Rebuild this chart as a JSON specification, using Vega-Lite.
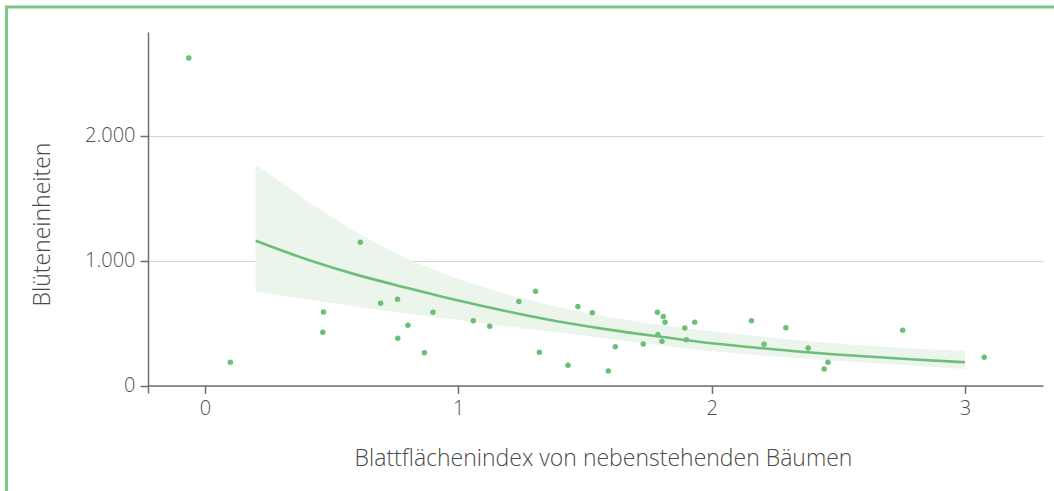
{
  "$schema": "https://vega.github.io/schema/vega-lite/v6.json",
  "width": 895,
  "height": 361,
  "autosize": {"type": "none"},
  "padding": {"left": 148, "top": 32, "right": 11, "bottom": 98},
  "background": "white",
  "config": {
    "view": {"stroke": null},
    "font": "Open Sans",
    "axis": {
      "labelFont": "Open Sans",
      "titleFont": "Open Sans",
      "labelColor": "#505050",
      "titleColor": "#4a4a4a",
      "labelFontSize": 20,
      "titleFontSize": 23,
      "labelFontWeight": 300,
      "titleFontWeight": 300,
      "domainColor": "#707070",
      "domainWidth": 1.5,
      "tickColor": "#707070",
      "tickWidth": 1.5,
      "tickSize": 8,
      "gridColor": "#d4d4d4",
      "gridWidth": 1
    }
  },
  "datasets": {
    "points": [
      {"lai": -0.064, "bloom": 2620},
      {"lai": 0.100, "bloom": 186},
      {"lai": 0.468, "bloom": 588},
      {"lai": 0.465, "bloom": 426},
      {"lai": 0.613, "bloom": 1146},
      {"lai": 0.693, "bloom": 658},
      {"lai": 0.760, "bloom": 690},
      {"lai": 0.801, "bloom": 482},
      {"lai": 0.761, "bloom": 378},
      {"lai": 0.866, "bloom": 262},
      {"lai": 0.900, "bloom": 586},
      {"lai": 1.059, "bloom": 518},
      {"lai": 1.124, "bloom": 474},
      {"lai": 1.239, "bloom": 672},
      {"lai": 1.305, "bloom": 754},
      {"lai": 1.320, "bloom": 266},
      {"lai": 1.472, "bloom": 632},
      {"lai": 1.529, "bloom": 583},
      {"lai": 1.433, "bloom": 162},
      {"lai": 1.592, "bloom": 116},
      {"lai": 1.620, "bloom": 310},
      {"lai": 1.730, "bloom": 332},
      {"lai": 1.786, "bloom": 586},
      {"lai": 1.809, "bloom": 552},
      {"lai": 1.816, "bloom": 506},
      {"lai": 1.788, "bloom": 408},
      {"lai": 1.804, "bloom": 354},
      {"lai": 1.894, "bloom": 460},
      {"lai": 1.933, "bloom": 506},
      {"lai": 1.900, "bloom": 366},
      {"lai": 2.157, "bloom": 518},
      {"lai": 2.293, "bloom": 462},
      {"lai": 2.207, "bloom": 330},
      {"lai": 2.381, "bloom": 300},
      {"lai": 2.459, "bloom": 186},
      {"lai": 2.444, "bloom": 132},
      {"lai": 2.754, "bloom": 442},
      {"lai": 3.076, "bloom": 226}
    ],
    "fit": [
      {"lai": 0.2, "fit": 1158, "lo": 752, "hi": 1770},
      {"lai": 0.4, "fit": 1010, "lo": 690, "hi": 1480},
      {"lai": 0.6, "fit": 885, "lo": 630, "hi": 1220},
      {"lai": 0.8, "fit": 780, "lo": 575, "hi": 1010},
      {"lai": 1.0, "fit": 680, "lo": 525, "hi": 850},
      {"lai": 1.2, "fit": 590, "lo": 470, "hi": 725},
      {"lai": 1.4, "fit": 510, "lo": 425, "hi": 625},
      {"lai": 1.6, "fit": 445, "lo": 372, "hi": 545},
      {"lai": 1.8, "fit": 390, "lo": 320, "hi": 485},
      {"lai": 2.0, "fit": 338, "lo": 275, "hi": 435},
      {"lai": 2.2, "fit": 298, "lo": 240, "hi": 390},
      {"lai": 2.4, "fit": 262, "lo": 210, "hi": 352},
      {"lai": 2.6, "fit": 234, "lo": 185, "hi": 320},
      {"lai": 2.8, "fit": 208, "lo": 158, "hi": 296},
      {"lai": 3.0, "fit": 186, "lo": 132, "hi": 276}
    ]
  },
  "layer": [
    {
      "data": {"name": "fit"},
      "mark": {"type": "area", "color": "#ebf5ec", "opacity": 1},
      "encoding": {
        "x": {"field": "lai", "type": "quantitative",
              "scale": {"domain": [-0.225, 3.308], "nice": false, "zero": false},
              "axis": {"title": "Blattflächenindex von nebenstehenden Bäumen", "values": [0, 1, 2, 3], "format": "d", "grid": false, "offset": -7.5, "labelPadding": 5, "titlePadding": 29, "titleX": 455}},
        "y": {"field": "lo", "type": "quantitative",
              "scale": {"domain": [-60, 2828], "nice": false, "zero": false},
              "axis": {"title": "Blüteneinheiten", "values": [0, 1000, 2000], "grid": true, "labelExpr": "replace(format(datum.value, ','), ',', '.')", "labelPadding": 5, "titlePadding": 30, "titleY": 192}},
        "y2": {"field": "hi"}
      }
    },
    {
      "data": {"name": "fit"},
      "mark": {"type": "line", "color": "#6cbf78", "strokeWidth": 2.6, "interpolate": "monotone"},
      "encoding": {
        "x": {"field": "lai", "type": "quantitative", "title": "Blattflächenindex von nebenstehenden Bäumen"},
        "y": {"field": "fit", "type": "quantitative", "title": "Blüteneinheiten"}
      }
    },
    {
      "data": {"name": "points"},
      "mark": {"type": "circle", "color": "#6cbf78", "opacity": 1, "size": 30},
      "encoding": {
        "x": {"field": "lai", "type": "quantitative", "title": "Blattflächenindex von nebenstehenden Bäumen"},
        "y": {"field": "bloom", "type": "quantitative", "title": "Blüteneinheiten"}
      }
    },
    {
      "data": {"values": [{}]},
      "mark": {"type": "rect", "fill": null, "stroke": "#7cc686", "strokeWidth": 3, "clip": false},
      "encoding": {
        "x": {"datum": -0.7836, "type": "quantitative"},
        "x2": {"datum": 4.0},
        "y": {"datum": 3028, "type": "quantitative"},
        "y2": {"datum": -1300}
      }
    }
  ]
}
